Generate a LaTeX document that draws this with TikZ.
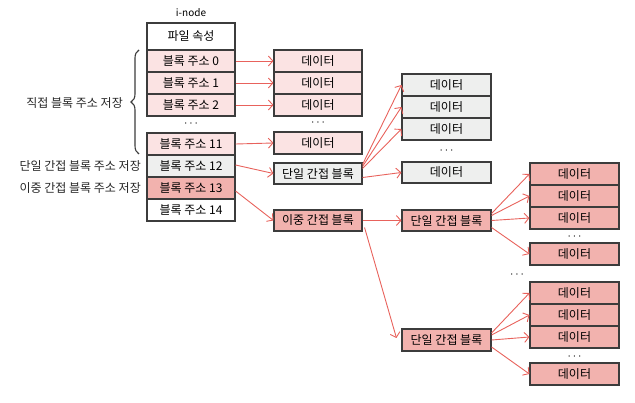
\documentclass[tikz,border=0pt]{standalone}
\usepackage{fontspec}
\setmainfont{Noto Sans CJK KR}
\usetikzlibrary{arrows.meta,decorations.pathreplacing,calc}
\definecolor{pinkL}{HTML}{FBE3E3}
\definecolor{grayL}{HTML}{EEEFEE}
\definecolor{redM}{HTML}{F2B2AE}
\definecolor{arrred}{HTML}{E8625C}
\definecolor{bord}{HTML}{3C3C3C}
\begin{document}
\begin{tikzpicture}[x=1pt,y=-1pt,
  cell/.style={draw=bord, line width=1.1pt, minimum width=88pt, minimum height=22pt, inner sep=0pt, font=\fontsize{12}{13}\selectfont},
  dcell/.style={cell, minimum width=89pt},
  lbl/.style={inner sep=0pt, anchor=east, font=\fontsize{12}{13}\selectfont, text=black!85},
  dotsn/.style={inner sep=0pt, font=\fontsize{13}{13}\selectfont},
  arr/.style={draw=arrred, line width=0.9pt, -{Straight Barb[length=4.5pt,width=10pt]}},
]
\useasboundingbox (0,0) rectangle (635,403);
% i-node column
\node[inner sep=0pt, font=\fontsize{10}{11}\selectfont] (inode) at (191,13) {i-node};
\node[cell, fill=white, minimum height=27pt] (attr) at (191,36.5) {파일 속성};
\node[cell, fill=pinkL] (b0) at (191,61) {블록 주소 0};
\node[cell, fill=pinkL] (b1) at (191,83) {블록 주소 1};
\node[cell, fill=pinkL] (b2) at (191,105) {블록 주소 2};
\node[dotsn] (bdots) at (191,124) {$\cdots$};
\node[cell, fill=pinkL] (b11) at (191,144) {블록 주소 11};
\node[cell, fill=grayL] (b12) at (191,166) {블록 주소 12};
\node[cell, fill=redM] (b13) at (191,188) {블록 주소 13};
\node[cell, fill=white] (b14) at (191,210) {블록 주소 14};
% left labels
\node[lbl] (ldirect) at (123,103) {직접 블록 주소 저장};
\node[lbl] (lsingle) at (141,166) {단일 간접 블록 주소 저장};
\node[lbl] (ldouble) at (141,188) {이중 간접 블록 주소 저장};
\draw[line width=1.1pt, draw=bord, decorate, decoration={brace, amplitude=8pt}] (139,154) -- (139,50);
% column 1
\node[cell, fill=pinkL] (d0) at (318,61) {데이터};
\node[cell, fill=pinkL] (d1) at (318,83) {데이터};
\node[cell, fill=pinkL] (d2) at (318,105) {데이터};
\node[dotsn] (ddots) at (318,123) {$\cdots$};
\node[cell, fill=pinkL] (d11) at (318,143) {데이터};
\node[cell, fill=grayL, minimum height=21pt] (sib) at (318,173.5) {단일 간접 블록};
\node[cell, fill=redM, minimum height=21pt] (dib) at (318,220.5) {이중 간접 블록};
% column 2
\node[dcell, fill=grayL] (g0) at (446.5,85) {데이터};
\node[dcell, fill=grayL] (g1) at (446.5,107) {데이터};
\node[dcell, fill=grayL] (g2) at (446.5,129) {데이터};
\node[dotsn] (gdots) at (446.5,151) {$\cdots$};
\node[dcell, fill=grayL, minimum height=21pt] (g3) at (446.5,172.5) {데이터};
\node[dcell, fill=redM, minimum height=21pt] (sib2) at (446.5,220.5) {단일 간접 블록};
\node[dcell, fill=redM] (sib3) at (446.5,340) {단일 간접 블록};
% column 3
\node[dcell, fill=redM] (r0) at (574.5,174) {데이터};
\node[dcell, fill=redM] (r1) at (574.5,196) {데이터};
\node[dcell, fill=redM] (r2) at (574.5,218) {데이터};
\node[dotsn] (rdots) at (574.5,237) {$\cdots$};
\node[dcell, fill=redM] (r3) at (574.5,254) {데이터};
\node[dotsn] (mdots) at (517,275) {$\cdots$};
\node[dcell, fill=redM] (s0) at (574.5,293) {데이터};
\node[dcell, fill=redM] (s1) at (574.5,315) {데이터};
\node[dcell, fill=redM] (s2) at (574.5,337) {데이터};
\node[dotsn] (sdots) at (574.5,357) {$\cdots$};
\node[dcell, fill=redM] (s3) at (574.5,374) {데이터};
% arrows
\draw[arr] (b0.east) -- (d0.west);
\draw[arr] (b1.east) -- (d1.west);
\draw[arr] (b2.east) -- (d2.west);
\draw[arr] (b11.east) -- (d11.west);
\draw[arr] ($(b12.east)+(0,-1)$) -- (sib.west);
\draw[arr] ($(b13.east)+(0,3)$) -- (dib.west);
\draw[arr] ($(sib.east)+(0,-9)$) -- (g0.west);
\draw[arr] ($(sib.east)+(0,-7)$) -- (g1.west);
\draw[arr] ($(sib.east)+(0,-5)$) -- (g2.west);
\draw[arr] ($(sib.east)+(0,4)$) -- (g3.west);
\draw[arr] (dib.east) -- (sib2.west);
\draw[arr] ($(dib.east)+(2,7)$) -- ($(sib3.west)+(-5,-2)$);
\draw[arr] ($(sib2.east)+(0,-7)$) -- (r0.west);
\draw[arr] ($(sib2.east)+(0,-5)$) -- (r1.west);
\draw[arr] ($(sib2.east)+(0,0)$) -- (r2.west);
\draw[arr] ($(sib2.east)+(0,7)$) -- (r3.west);
\draw[arr] ($(sib3.east)+(0,-7)$) -- (s0.west);
\draw[arr] ($(sib3.east)+(0,-5)$) -- (s1.west);
\draw[arr] ($(sib3.east)+(0,0)$) -- (s2.west);
\draw[arr] ($(sib3.east)+(0,7)$) -- (s3.west);
\end{tikzpicture}
\end{document}
